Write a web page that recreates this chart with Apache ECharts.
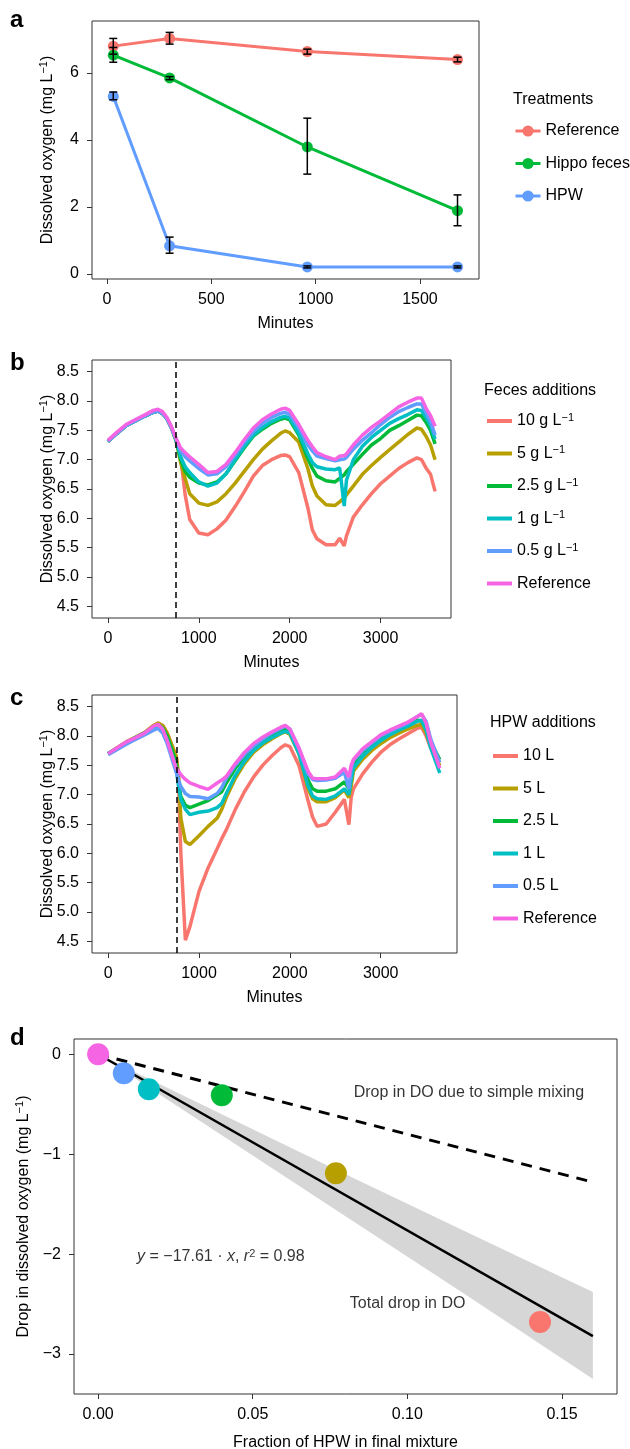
<!DOCTYPE html>
<html>
<head>
<meta charset="utf-8">
<script src="https://cdn.jsdelivr.net/npm/echarts@6/dist/echarts.min.js"></script>
<style>
  html, body { margin: 0; padding: 0; background: #fff; }
  #main { width: 630px; height: 1449px; }
</style>
</head>
<body>
<div id="main"></div>
<script>
// ---- panel a: tank measurements ----
var sampleMinutes = [30, 300, 960, 1680];
var refMean   = [6.80, 7.03, 6.64, 6.40];
var refLow    = [6.56, 6.86, 6.56, 6.33];
var refHigh   = [7.03, 7.21, 6.71, 6.47];
var fecesMean = [6.53, 5.85, 3.79, 1.89];
var fecesLow  = [6.32, 5.80, 2.98, 1.44];
var fecesHigh = [6.76, 5.89, 4.65, 2.36];
var hpwMean   = [5.30, 0.84, 0.21, 0.21];
var hpwLow    = [5.20, 0.62, 0.18, 0.18];
var hpwHigh   = [5.43, 1.10, 0.24, 0.24];
var minutesTicksA = [0, 500, 1000, 1500];
var doTicksA = [0, 2, 4, 6];

// ---- panel b: feces additions (continuous logger) ----
var minutesB = [0,100,200,300,400,500,550,600,650,700,750,800,850,900,1000,1100,1200,1300,1400,1500,1600,1700,1800,1900,1950,2000,2100,2200,2250,2300,2400,2500,2550,2600,2625,2700,2800,2900,3000,3100,3200,3300,3400,3450,3500,3550,3600];
var feces10  = [7.31,7.45,7.58,7.66,7.74,7.81,7.83,7.79,7.70,7.54,7.33,7.05,6.40,5.98,5.75,5.72,5.82,5.97,6.20,6.45,6.72,6.90,7.00,7.07,7.08,7.05,6.78,6.18,5.80,5.65,5.55,5.55,5.66,5.53,5.70,6.02,6.23,6.42,6.59,6.72,6.85,6.95,7.03,7.00,6.86,6.75,6.46];
var feces5   = [7.31,7.45,7.58,7.66,7.74,7.81,7.83,7.79,7.70,7.54,7.33,6.95,6.68,6.42,6.26,6.22,6.28,6.42,6.60,6.80,7.00,7.18,7.32,7.45,7.49,7.46,7.30,6.85,6.55,6.38,6.23,6.22,6.28,6.35,6.40,6.55,6.75,6.90,7.04,7.17,7.30,7.43,7.54,7.52,7.40,7.25,7.00];
var feces25  = [7.31,7.45,7.58,7.66,7.74,7.81,7.83,7.79,7.70,7.54,7.33,7.00,6.80,6.70,6.60,6.57,6.62,6.76,6.98,7.20,7.40,7.52,7.62,7.69,7.71,7.68,7.42,7.02,6.85,6.72,6.64,6.62,6.68,6.74,6.80,6.92,7.09,7.25,7.36,7.50,7.58,7.67,7.76,7.75,7.64,7.50,7.27];
var feces1   = [7.31,7.45,7.58,7.66,7.74,7.81,7.83,7.79,7.70,7.54,7.34,7.05,6.88,6.78,6.62,6.55,6.60,6.76,7.00,7.22,7.42,7.55,7.65,7.72,7.74,7.71,7.45,7.10,6.95,6.88,6.84,6.83,6.86,6.21,6.65,7.00,7.23,7.38,7.50,7.62,7.70,7.77,7.85,7.84,7.72,7.58,7.35];
var feces05  = [7.31,7.45,7.58,7.66,7.74,7.81,7.83,7.79,7.70,7.54,7.35,7.15,7.05,6.98,6.85,6.74,6.76,6.88,7.08,7.30,7.48,7.62,7.72,7.79,7.81,7.77,7.55,7.25,7.15,7.06,7.02,6.98,7.00,7.01,7.04,7.18,7.33,7.46,7.60,7.72,7.82,7.89,7.95,7.95,7.80,7.65,7.42];
var fecesRef = [7.33,7.47,7.60,7.68,7.76,7.84,7.86,7.82,7.72,7.56,7.36,7.20,7.12,7.05,6.92,6.78,6.80,6.92,7.12,7.34,7.54,7.68,7.78,7.86,7.88,7.84,7.60,7.33,7.22,7.12,7.05,7.00,7.06,7.07,7.10,7.25,7.42,7.55,7.66,7.78,7.90,7.98,8.05,8.05,7.88,7.75,7.57];

// ---- panel c: HPW additions ----
var minutesC = [0,100,200,300,400,500,550,600,650,700,750,775,800,850,900,1000,1100,1200,1250,1300,1400,1500,1600,1700,1800,1900,1950,2000,2100,2200,2250,2300,2400,2500,2600,2650,2675,2700,2800,2900,3000,3100,3200,3300,3400,3450,3500,3550,3650];
var hpw10  = [7.70,7.80,7.90,7.98,8.06,8.18,8.22,8.18,8.05,7.85,7.65,7.20,6.00,4.52,4.75,5.35,5.75,6.08,6.25,6.40,6.75,7.05,7.30,7.50,7.66,7.80,7.85,7.82,7.50,6.90,6.62,6.46,6.50,6.70,6.92,6.49,6.95,7.10,7.35,7.55,7.72,7.85,7.95,8.04,8.13,8.15,8.00,7.80,7.45];
var hpw5   = [7.70,7.80,7.90,7.98,8.06,8.18,8.22,8.18,8.05,7.85,7.65,7.35,6.60,6.20,6.15,6.30,6.46,6.60,6.75,6.95,7.28,7.53,7.72,7.85,7.95,8.04,8.07,8.03,7.70,7.10,6.93,6.88,6.88,6.95,7.08,6.95,7.15,7.40,7.60,7.75,7.87,7.97,8.05,8.12,8.18,8.20,8.05,7.85,7.50];
var hpw25  = [7.70,7.79,7.89,7.97,8.05,8.15,8.19,8.14,8.00,7.78,7.55,7.20,6.97,6.82,6.78,6.84,6.90,7.00,7.05,7.20,7.45,7.65,7.80,7.93,8.02,8.10,8.12,8.08,7.75,7.25,7.10,7.06,7.06,7.10,7.22,7.10,7.30,7.52,7.70,7.83,7.95,8.05,8.12,8.20,8.27,8.26,8.12,7.90,7.60];
var hpw1   = [7.70,7.79,7.89,7.97,8.05,8.14,8.17,8.10,7.93,7.68,7.42,7.15,6.92,6.75,6.66,6.70,6.72,6.78,6.85,7.02,7.33,7.57,7.75,7.88,7.97,8.05,8.08,8.05,7.70,7.15,6.98,6.93,6.92,6.98,7.10,7.00,7.25,7.45,7.65,7.80,7.92,8.02,8.10,8.17,8.25,8.27,8.10,7.80,7.37];
var hpw05  = [7.68,7.77,7.86,7.94,8.02,8.10,8.13,8.05,7.87,7.62,7.38,7.25,7.14,7.02,6.97,6.96,6.93,7.02,7.12,7.28,7.50,7.68,7.83,7.95,8.05,8.13,8.17,8.12,7.78,7.35,7.26,7.24,7.25,7.28,7.38,7.10,7.45,7.58,7.75,7.88,8.00,8.08,8.15,8.22,8.33,8.37,8.25,7.95,7.55];
var hpwRef = [7.70,7.80,7.90,7.97,8.05,8.17,8.20,8.12,7.92,7.68,7.45,7.40,7.34,7.26,7.20,7.14,7.09,7.20,7.25,7.31,7.53,7.72,7.87,7.98,8.07,8.15,8.18,8.12,7.80,7.40,7.28,7.27,7.27,7.30,7.45,7.30,7.50,7.60,7.78,7.90,8.02,8.10,8.17,8.24,8.33,8.38,8.22,7.90,7.45];

var levels = ['10', '5', '2.5', '1', '0.5', 'Reference'];
var additionMinute = 750;
var minutesTicksBC = [0, 1000, 2000, 3000];
var doTicksBC = [4.5, 5.0, 5.5, 6.0, 6.5, 7.0, 7.5, 8.0, 8.5];

// ---- panel d: drop vs HPW fraction ----
var hpwFraction = [0, 0.0083, 0.0164, 0.04, 0.0769, 0.1429];
var doDrop      = [0, -0.19, -0.35, -0.41, -1.19, -2.68];
var fitX  = [0, 0.16];
var fitY  = [0, -2.82];
var mixX  = [0, 0.16];
var mixY  = [0, -1.28];
var bandX    = [0, 0.04, 0.08, 0.12, 0.16];
var bandLow  = [0, -0.81, -1.62, -2.43, -3.25];
var bandHigh = [0, -0.60, -1.20, -1.79, -2.38];
var fractionTicks = [0, 0.05, 0.10, 0.15];
var dropTicks = [-3, -2, -1, 0];
var notes = [
  [0.1199, -0.38, 'Drop in DO due to simple mixing'],
  [0.0397, -2.02, '{i|y} = \u221217.61 \u00b7 {i|x}, {i|r}{s|2} = 0.98'],
  [0.1001, -2.50, 'Total drop in DO']
];

// ggplot hue palettes
var hue3 = ['#F8766D', '#00BA38', '#619CFF'];
var hue6 = ['#F8766D', '#B79F00', '#00BA38', '#00BFC4', '#619CFF', '#F564E3'];
var dropPalette = ['#F564E3', '#619CFF', '#00BFC4', '#00BA38', '#B79F00', '#F8766D'];

var FONT = '"Liberation Sans", Arial, Helvetica, sans-serif';
var supRich = { s: { fontSize: 11, verticalAlign: 'top', lineHeight: 8, color: '#000' }, i: { fontStyle: 'italic', color: '#000' } };

function zip(xs, ys) {
  return xs.map(function (x, i) { return [x, ys[i]]; });
}
function plainFmt(v) {
  return String(v).replace('-', '\u2212');
}

function xAxisFor(idx, min, max, ticks, name, fmt, gap) {
  return {
    gridIndex: idx, type: 'value', min: min, max: max,
    name: name, nameLocation: 'middle', nameGap: gap, nameMoveOverlap: false,
    nameTextStyle: { fontSize: 16, color: '#000' },
    axisLine: { show: false, onZero: false },
    axisTick: { show: true, customValues: ticks, length: 5, lineStyle: { color: '#333', width: 1 } },
    axisLabel: { customValues: ticks, margin: 13, fontSize: 16, color: '#000', formatter: fmt || plainFmt },
    splitLine: { show: false }
  };
}
function yAxisFor(idx, min, max, ticks, name, fmt, gap) {
  return {
    gridIndex: idx, type: 'value', min: min, max: max,
    name: name, nameLocation: 'middle', nameGap: gap, nameRotate: 90, nameMoveOverlap: false,
    nameTextStyle: { fontSize: 16, color: '#000', lineHeight: 20, rich: supRich },
    axisLine: { show: false, onZero: false },
    axisTick: { show: true, customValues: ticks, length: 5, lineStyle: { color: '#333', width: 1 } },
    axisLabel: { customValues: ticks, margin: 13, fontSize: 16, color: '#000', formatter: fmt || plainFmt },
    splitLine: { show: false }
  };
}

function renderErrorBar(params, api) {
  var x = api.value(0);
  var lo = api.coord([x, api.value(1)]);
  var hi = api.coord([x, api.value(2)]);
  var hw = 4;
  var st = { stroke: '#000', lineWidth: 1.5 };
  return {
    type: 'group', children: [
      { type: 'line', shape: { x1: hi[0], y1: hi[1], x2: lo[0], y2: lo[1] }, style: st },
      { type: 'line', shape: { x1: hi[0] - hw, y1: hi[1], x2: hi[0] + hw, y2: hi[1] }, style: st },
      { type: 'line', shape: { x1: lo[0] - hw, y1: lo[1], x2: lo[0] + hw, y2: lo[1] }, style: st }
    ]
  };
}
function renderBand(params, api) {
  var pts = [];
  for (var i = 0; i < bandX.length; i++) pts.push(api.coord([bandX[i], bandHigh[i]]));
  for (var j = bandX.length - 1; j >= 0; j--) pts.push(api.coord([bandX[j], bandLow[j]]));
  return { type: 'polygon', shape: { points: pts }, style: { fill: '#d6d6d6' } };
}

var series = [];

// panel a
var aMeans = [refMean, fecesMean, hpwMean];
var aLows = [refLow, fecesLow, hpwLow];
var aHighs = [refHigh, fecesHigh, hpwHigh];
var aNames = ['Reference', 'Hippo feces', 'HPW'];
aNames.forEach(function (nm, k) {
  series.push({
    name: nm, type: 'line', xAxisIndex: 0, yAxisIndex: 0,
    data: zip(sampleMinutes, aMeans[k]),
    symbol: 'circle', symbolSize: 11, showSymbol: true,
    lineStyle: { width: 3, color: hue3[k] },
    itemStyle: { color: hue3[k] },
    z: 2
  });
});
var errData = [];
aNames.forEach(function (nm, k) {
  sampleMinutes.forEach(function (m, i) { errData.push([m, aLows[k][i], aHighs[k][i]]); });
});
series.push({
  type: 'custom', xAxisIndex: 0, yAxisIndex: 0, renderItem: renderErrorBar,
  data: errData, encode: { x: 0, y: [1, 2] }, z: 5, silent: true
});

// panel b and c
var fecesSeries = [feces10, feces5, feces25, feces1, feces05, fecesRef];
var hpwSeries = [hpw10, hpw5, hpw25, hpw1, hpw05, hpwRef];
[[fecesSeries, minutesB, 1, 'b '], [hpwSeries, minutesC, 2, 'c ']].forEach(function (cfg) {
  cfg[0].forEach(function (vals, k) {
    var s = {
      name: cfg[3] + levels[k], type: 'line', xAxisIndex: cfg[2], yAxisIndex: cfg[2],
      data: zip(cfg[1], vals), showSymbol: false, symbol: 'none',
      lineStyle: { width: 3.5, color: hue6[k] }, itemStyle: { color: hue6[k] }, z: 2
    };
    if (k === levels.length - 1) {
      s.markLine = {
        silent: true, symbol: ['none', 'none'], label: { show: false },
        lineStyle: { color: '#000', type: [6, 4], width: 1.5 },
        data: [{ xAxis: additionMinute }], z: 6
      };
    }
    series.push(s);
  });
});

// panel d
series.push({
  type: 'custom', xAxisIndex: 3, yAxisIndex: 3, renderItem: renderBand,
  data: [[0, 0]], z: 1, silent: true
});
series.push({
  type: 'line', xAxisIndex: 3, yAxisIndex: 3, data: zip(fitX, fitY), showSymbol: false,
  lineStyle: { color: '#000', width: 2.5 }, z: 2, silent: true
});
series.push({
  type: 'line', xAxisIndex: 3, yAxisIndex: 3, data: zip(mixX, mixY), showSymbol: false,
  lineStyle: { color: '#000', width: 3, type: [11, 8] }, z: 2, silent: true
});
series.push({
  type: 'scatter', xAxisIndex: 3, yAxisIndex: 3, symbolSize: 22, z: 4,
  data: hpwFraction.map(function (f, i) {
    return { value: [f, doDrop[i]], itemStyle: { color: dropPalette[i], opacity: 1 } };
  })
});
series.push({
  type: 'scatter', xAxisIndex: 3, yAxisIndex: 3, symbolSize: 1, z: 5, silent: true,
  itemStyle: { color: 'rgba(0,0,0,0)' },
  label: {
    show: true, position: 'inside', fontSize: 16, color: '#000', textBorderWidth: 0,
    formatter: function (p) { return p.data[2]; },
    rich: { i: { fontStyle: 'italic', fontSize: 16, color: '#000' }, s: { fontSize: 11, verticalAlign: 'top', lineHeight: 8, color: '#000' } }
  },
  data: notes
});

function legendFor(names, left, top, fmt, lineOnly) {
  var lg = {
    data: names, orient: 'vertical', left: left, top: top, selectedMode: false, padding: 0,
    itemWidth: 25, itemHeight: lineOnly ? 4 : 14, itemGap: 14.5,
    textStyle: { fontSize: 16, color: '#000', lineHeight: 18, rich: supRich },
    formatter: fmt
  };
  if (lineOnly) lg.icon = 'rect';
  else lg.lineStyle = { width: 3 };
  return lg;
}

var option = {
  animation: false,
  backgroundColor: '#fff',
  textStyle: { fontFamily: FONT },
  grid: [
    { left: 92, top: 21, width: 387, height: 258 },
    { left: 92, top: 360, width: 359, height: 258 },
    { left: 92, top: 695, width: 365, height: 258 },
    { left: 74, top: 1039, width: 543, height: 355 }
  ].map(function (g) {
    g.show = true; g.borderColor = '#333'; g.borderWidth = 1; g.outerBoundsMode = 'none';
    return g;
  }),
  xAxis: [
    xAxisFor(0, -72, 1783, minutesTicksA, 'Minutes', null, 37),
    xAxisFor(1, -175, 3775, minutesTicksBC, 'Minutes', null, 37),
    xAxisFor(2, -178, 3840, minutesTicksBC, 'Minutes', null, 37),
    xAxisFor(3, -0.0078, 0.1678, fractionTicks, 'Fraction of HPW in final mixture', function (v) { return v.toFixed(2); }, 41)
  ],
  yAxis: [
    yAxisFor(0, -0.15, 7.55, doTicksA, 'Dissolved oxygen (mg L{s|\u22121})', null, 34),
    yAxisFor(1, 4.3, 8.7, doTicksBC, 'Dissolved oxygen (mg L{s|\u22121})', function (v) { return v.toFixed(1); }, 34),
    yAxisFor(2, 4.3, 8.7, doTicksBC, 'Dissolved oxygen (mg L{s|\u22121})', function (v) { return v.toFixed(1); }, 34),
    yAxisFor(3, -3.40, 0.153, dropTicks, 'Drop in dissolved oxygen (mg L{s|\u22121})', null, 40)
  ],
  legend: [
    legendFor(aNames, 514, 122, null, false),
    legendFor(levels.map(function (l) { return 'b ' + l; }), 487, 412, function (n) {
      var l = n.slice(2); return l === 'Reference' ? l : l + ' g L{s|\u22121}';
    }, true),
    legendFor(levels.map(function (l) { return 'c ' + l; }), 493, 747, function (n) {
      var l = n.slice(2); return l === 'Reference' ? l : l + ' L';
    }, true)
  ],
  graphic: [
    { type: 'text', x: 10, y: 20, style: { text: 'a', font: 'bold 24px ' + FONT, fill: '#000', verticalAlign: 'middle' } },
    { type: 'text', x: 10, y: 363, style: { text: 'b', font: 'bold 24px ' + FONT, fill: '#000', verticalAlign: 'middle' } },
    { type: 'text', x: 10, y: 698, style: { text: 'c', font: 'bold 24px ' + FONT, fill: '#000', verticalAlign: 'middle' } },
    { type: 'text', x: 10, y: 1038, style: { text: 'd', font: 'bold 24px ' + FONT, fill: '#000', verticalAlign: 'middle' } },
    { type: 'text', x: 513, y: 100, style: { text: 'Treatments', font: '16px ' + FONT, fill: '#000', verticalAlign: 'middle' } },
    { type: 'text', x: 484, y: 391, style: { text: 'Feces additions', font: '16px ' + FONT, fill: '#000', verticalAlign: 'middle' } },
    { type: 'text', x: 490, y: 723, style: { text: 'HPW additions', font: '16px ' + FONT, fill: '#000', verticalAlign: 'middle' } }
  ],
  series: series
};

var chart = echarts.init(document.getElementById('main'), null, { renderer: 'canvas' });
chart.setOption(option);
</script>
</body>
</html>
